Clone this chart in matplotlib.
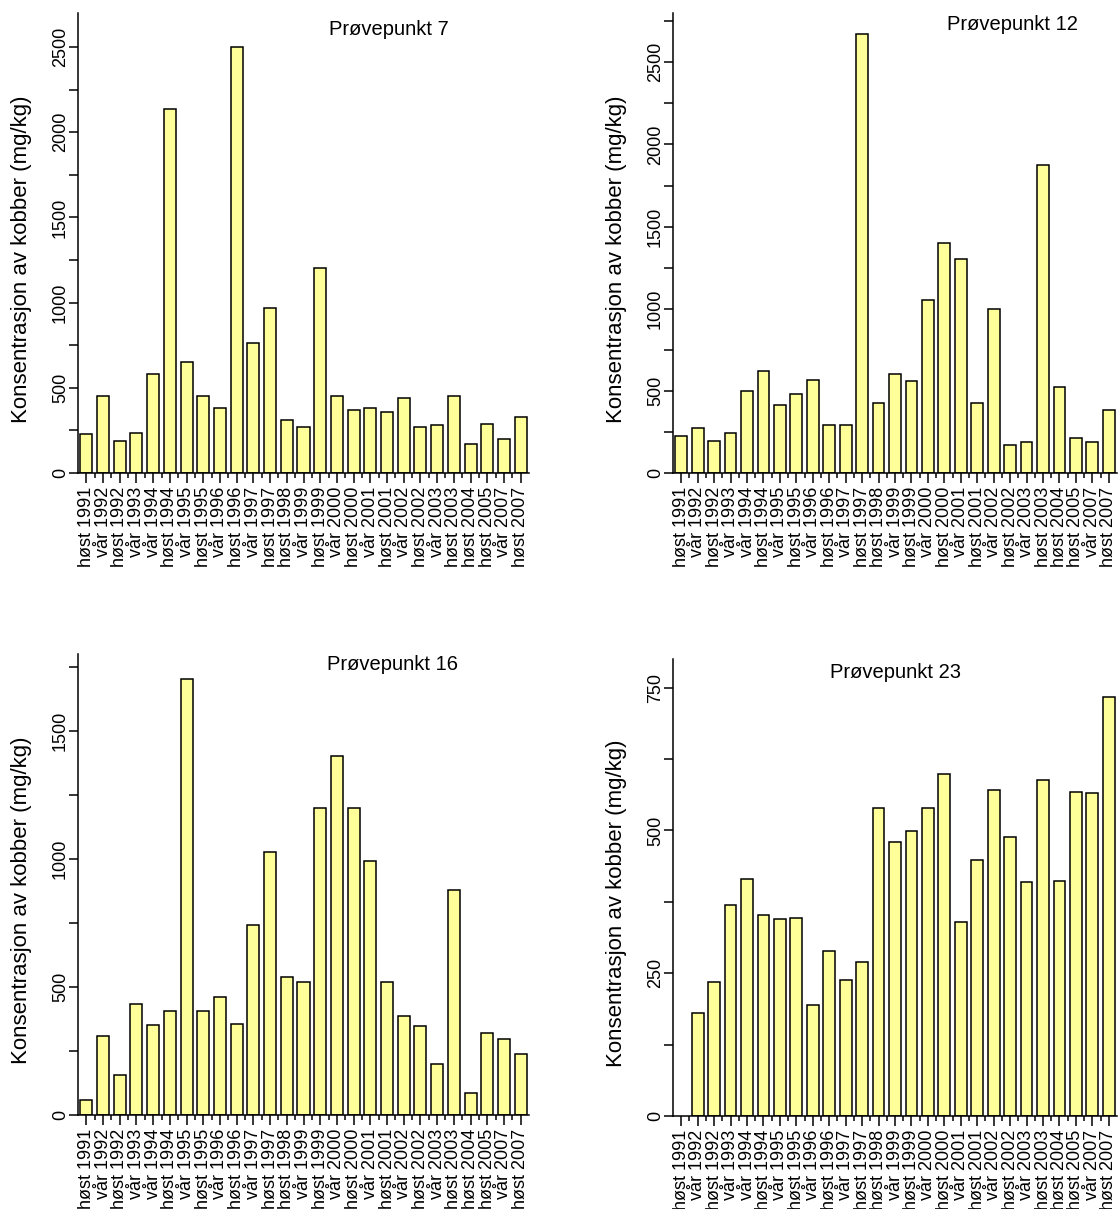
import numpy as np
import matplotlib
matplotlib.use("Agg")
import matplotlib.pyplot as plt
from matplotlib.ticker import MultipleLocator

plt.rcParams['font.family'] = ['Liberation Sans', 'DejaVu Sans']

labels = ['høst 1991', 'vår 1992', 'høst 1992', 'vår 1993', 'vår 1994', 'høst 1994',
          'vår 1995', 'høst 1995', 'vår 1996', 'høst 1996', 'vår 1997', 'høst 1997',
          'høst 1998', 'vår 1999', 'høst 1999', 'vår 2000', 'høst 2000', 'vår 2001',
          'høst 2001', 'vår 2002', 'høst 2002', 'vår 2003', 'høst 2003', 'høst 2004',
          'høst 2005', 'vår 2007', 'høst 2007']

# copper concentration (mg/kg) per sampling point
p7 = [230, 452, 186, 233, 583, 2134, 651, 452, 383, 2500, 763, 966, 311, 272, 1201,
      450, 372, 381, 360, 442, 272, 282, 450, 168, 288, 198, 331]
p12 = [228, 274, 195, 246, 500, 620, 415, 480, 569, 293, 291, 2671, 429, 600, 561,
       1051, 1400, 1301, 429, 1000, 171, 191, 1872, 524, 213, 191, 382]
p16 = [60, 309, 155, 432, 353, 406, 1704, 408, 462, 355, 742, 1025, 538, 520, 1199,
       1400, 1199, 990, 520, 388, 349, 198, 880, 86, 319, 296, 238]
p23 = [np.nan, 181, 234, 369, 415, 352, 345, 346, 194, 289, 238, 269, 539, 480, 499,
       539, 598, 339, 449, 570, 489, 409, 588, 412, 568, 565, 733]

W, H = 1118, 1209
fig = plt.figure(figsize=(W / 100, H / 100), dpi=100)


def panel(box, vals, title, ymax, major, tpos):
    l, t, r, b = box
    ax = fig.add_axes([l / W, 1 - b / H, (r - l) / W, (b - t) / H])
    x = np.arange(len(labels))
    ax.bar(x, vals, width=0.72, color='#ffff99', edgecolor='black', linewidth=1.1)
    ax.set_xlim(-0.5, len(labels) - 0.5)
    ax.set_ylim(0, ymax)
    for s in ['top', 'right']:
        ax.spines[s].set_visible(False)
    for s in ['left', 'bottom']:
        ax.spines[s].set_linewidth(1.1)
    ax.set_xticks(x)
    ax.set_xticklabels(labels, rotation=90, fontsize=13)
    ax.set_xticks(x[:-1] + 0.5, minor=True)
    ax.tick_params(axis='x', which='major', length=7, width=1.1, pad=3)
    ax.tick_params(axis='x', which='minor', length=3.5, width=1.1)
    ax.yaxis.set_major_locator(MultipleLocator(major))
    ax.yaxis.set_minor_locator(MultipleLocator(major / 2))
    ax.tick_params(axis='y', which='both', length=6.5, width=1.1, pad=0,
                   labelsize=13, labelrotation=90)
    for lab in ax.get_yticklabels():
        lab.set_verticalalignment('center')
    ax.set_ylabel('Konsentrasjon av kobber (mg/kg)', fontsize=16)
    ax.yaxis.set_label_coords(-46 / (r - l), 0.465)
    ax.text(tpos[0], tpos[1], title, transform=ax.transAxes, fontsize=14.5,
            ha='center', va='center')
    return ax


panel((78, 13, 529, 473), p7, 'Prøvepunkt 7', 2700, 500, (0.689, 0.965))
panel((673, 13, 1117, 473), p12, 'Prøvepunkt 12', 2800, 500, (0.765, 0.976))
panel((78, 654, 529, 1115), p16, 'Prøvepunkt 16', 1800, 500, (0.697, 0.978))
panel((673, 659, 1117, 1116), p23, 'Prøvepunkt 23', 800, 250, (0.50, 0.970))

fig.savefig('out.png', dpi=100)
